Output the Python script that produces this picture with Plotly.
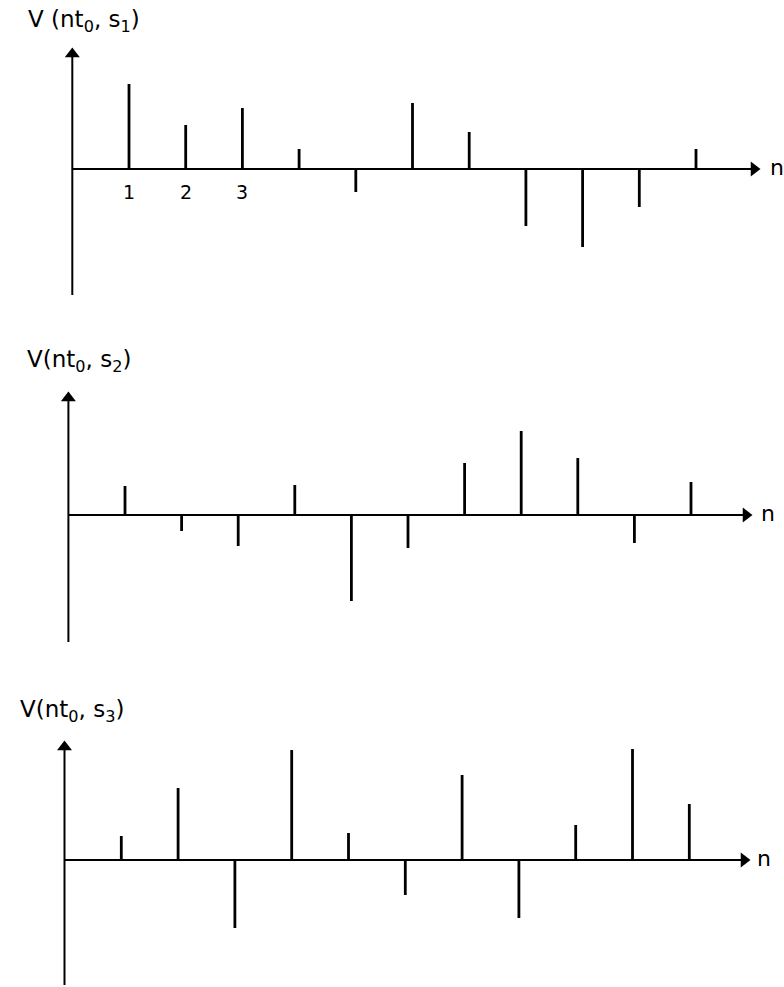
import plotly.graph_objects as go

# ---------------- data ----------------
n_index = list(range(1, 12))
s1_values = [85, 44, 61, 20, -23, 66, 37, -57, -78, -38, 20]
s2_values = [29, -16, -31, 30, -86, -33, 52, 84, 57, -28, 33]
s3_values = [24, 72, -68, 110, 27, -35, 85, -58, 35, 111, 56]
panel_titles = ["V (nt<sub>0</sub>, s<sub>1</sub>)",
                "V(nt<sub>0</sub>, s<sub>2</sub>)",
                "V(nt<sub>0</sub>, s<sub>3</sub>)"]
tick_positions = [1, 2, 3]
tick_labels = ["1", "2", "3"]
axis_name = "n"

# ---------------- layout constants (pixels) ----------------
W, H = 784, 987
panels = [
    # x0: pixel of n=0, dx: pixels per n, b: baseline pixel (from top)
    dict(vals=s1_values, x0=72.3, dx=56.7, b=169, top=0, bot=330,
         ytip=48, ybot=295, xtip=760, nx=777, title_y=21, title_x=26),
    dict(vals=s2_values, x0=68.4, dx=56.6, b=515, top=330, bot=665,
         ytip=392, ybot=642, xtip=752, nx=768, title_y=361, title_x=25),
    dict(vals=s3_values, x0=64.5, dx=56.8, b=860, top=665, bot=987,
         ytip=741, ybot=985, xtip=750, nx=764, title_y=711, title_x=18),
]

FONT = "DejaVu Sans"
fig = go.Figure()
annotations = []
layout_axes = {}

for i, p in enumerate(panels, start=1):
    xa = "x" if i == 1 else f"x{i}"
    ya = "y" if i == 1 else f"y{i}"
    # stems
    xs, ys = [], []
    for n, v in zip(n_index, p["vals"]):
        xs += [n, n, None]
        ys += [0, v, None]
    fig.add_trace(go.Scatter(x=xs, y=ys, mode="lines", xaxis=xa, yaxis=ya,
                             line=dict(color="black", width=2.8),
                             hoverinfo="skip", showlegend=False))

    # axes drawn as lines with arrow-head markers
    ytip = p["b"] - p["ytip"]
    ybot = p["b"] - p["ybot"]
    xtip = (p["xtip"] - p["x0"]) / p["dx"]
    fig.add_trace(go.Scatter(x=[0, 0], y=[ybot, ytip - 6], mode="lines",
                             xaxis=xa, yaxis=ya,
                             line=dict(color="black", width=2),
                             hoverinfo="skip", showlegend=False))
    fig.add_trace(go.Scatter(x=[0], y=[ytip - 6], mode="markers",
                             xaxis=xa, yaxis=ya,
                             marker=dict(symbol="triangle-up", size=13,
                                         color="black", line=dict(width=0)),
                             hoverinfo="skip", showlegend=False))
    fig.add_trace(go.Scatter(x=[0, xtip - 6 / p["dx"]], y=[0, 0], mode="lines",
                             xaxis=xa, yaxis=ya,
                             line=dict(color="black", width=2),
                             hoverinfo="skip", showlegend=False))
    fig.add_trace(go.Scatter(x=[xtip - 6 / p["dx"]], y=[0], mode="markers",
                             xaxis=xa, yaxis=ya,
                             marker=dict(symbol="triangle-right", size=13,
                                         color="black", line=dict(width=0)),
                             hoverinfo="skip", showlegend=False))

    xr = [(0 - p["x0"]) / p["dx"], (W - p["x0"]) / p["dx"]]
    yr = [p["b"] - p["bot"], p["b"] - p["top"]]
    dom = [1 - p["bot"] / H, 1 - p["top"] / H]
    common = dict(showgrid=False, zeroline=False, showticklabels=False,
                  showline=False, ticks="", fixedrange=True)
    layout_axes["xaxis" if i == 1 else f"xaxis{i}"] = dict(
        range=xr, domain=[0, 1], anchor=ya, **common)
    layout_axes["yaxis" if i == 1 else f"yaxis{i}"] = dict(
        range=yr, domain=dom, anchor=xa, **common)

    # "n" label
    annotations.append(dict(x=(p["nx"] - p["x0"]) / p["dx"], y=0, xref=xa, yref=ya,
                            text=axis_name, showarrow=False,
                            font=dict(family=FONT, size=22, color="black"),
                            xanchor="center", yanchor="middle", yshift=2))
    # panel title
    annotations.append(dict(x=p["title_x"] / W, y=1 - p["title_y"] / H,
                            xref="paper", yref="paper", text=panel_titles[i - 1],
                            showarrow=False, xanchor="left", yanchor="middle",
                            font=dict(family=FONT, size=23, color="black")))

# tick labels in panel 1
for pos, lab in zip(tick_positions, tick_labels):
    annotations.append(dict(x=pos, y=0, xref="x", yref="y", text=lab,
                            showarrow=False, yanchor="top", yshift=-10,
                            font=dict(family=FONT, size=19, color="black")))

fig.update_layout(width=W, height=H, margin=dict(l=0, r=0, t=0, b=0),
                  paper_bgcolor="white", plot_bgcolor="white",
                  annotations=annotations, **layout_axes)

fig.write_html("out.html")
